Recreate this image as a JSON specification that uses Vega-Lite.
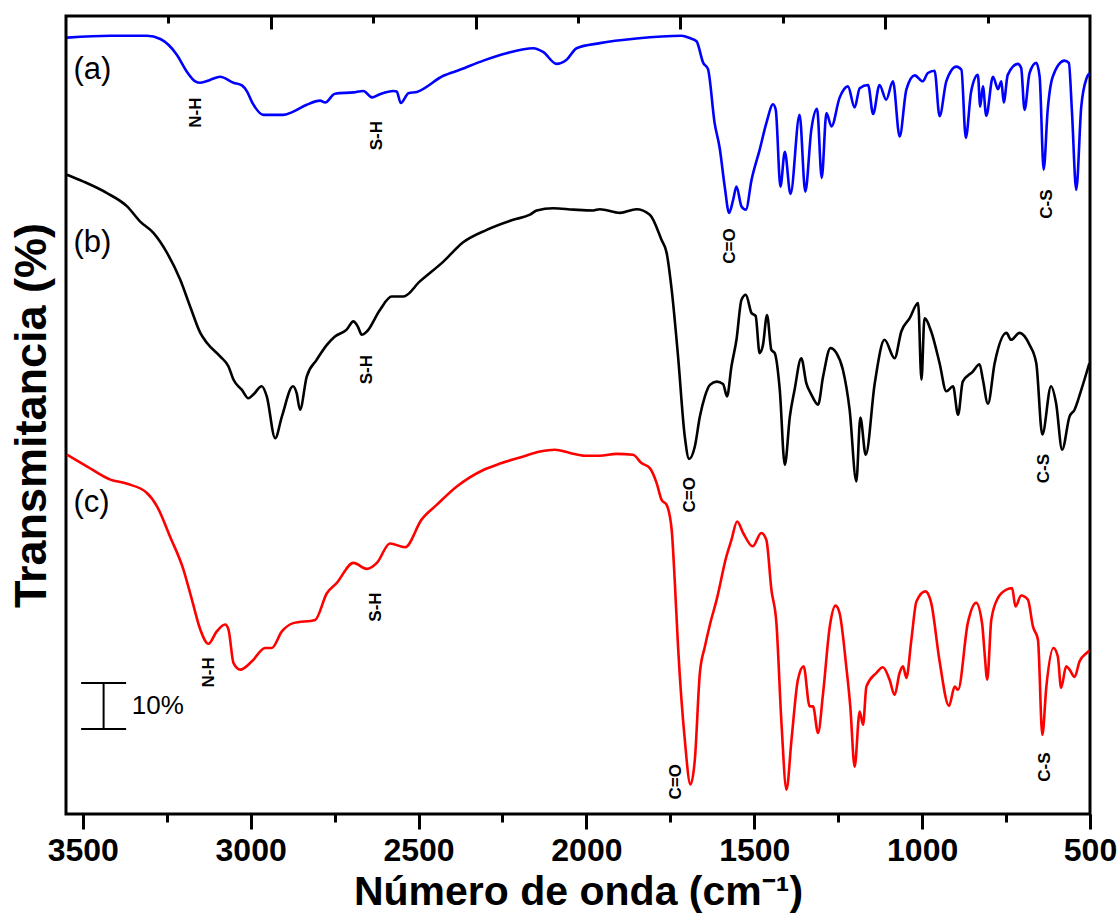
{
  "$schema": "https://vega.github.io/schema/vega-lite/v6.json",
  "autosize": "none",
  "width": 1024,
  "height": 798,
  "padding": {"left": 66, "top": 16, "right": 30, "bottom": 110},
  "background": "white",
  "config": {"view": {"stroke": "black", "strokeWidth": 3}, "font": "Liberation Sans"},
  "datasets": {
    "spectra": [
      {"s":"a","wn":3547,"T":168.8},{"s":"a","wn":3418,"T":169.2},{"s":"a","wn":3309,"T":169.2},{"s":"a","wn":3269,"T":168.5},{"s":"a","wn":3220,"T":165.1},{"s":"a","wn":3190,"T":161.4},{"s":"a","wn":3165,"T":159.3},{"s":"a","wn":3150,"T":159.0},{"s":"a","wn":3121,"T":159.6},{"s":"a","wn":3091,"T":160.3},{"s":"a","wn":3051,"T":159.0},{"s":"a","wn":3026,"T":158.4},{"s":"a","wn":3011,"T":157.1},{"s":"a","wn":2996,"T":154.8},{"s":"a","wn":2962,"T":152.0},{"s":"a","wn":2902,"T":152.0},{"s":"a","wn":2873,"T":152.7},{"s":"a","wn":2833,"T":154.2},{"s":"a","wn":2793,"T":155.1},{"s":"a","wn":2778,"T":154.7},{"s":"a","wn":2749,"T":156.6},{"s":"a","wn":2694,"T":156.9},{"s":"a","wn":2664,"T":157.2},{"s":"a","wn":2639,"T":155.8},{"s":"a","wn":2615,"T":156.5},{"s":"a","wn":2575,"T":157.2},{"s":"a","wn":2565,"T":157.1},{"s":"a","wn":2553,"T":154.6},{"s":"a","wn":2530,"T":156.7},{"s":"a","wn":2505,"T":157.0},{"s":"a","wn":2426,"T":160.5},{"s":"a","wn":2377,"T":161.8},{"s":"a","wn":2307,"T":163.8},{"s":"a","wn":2238,"T":165.4},{"s":"a","wn":2158,"T":166.5},{"s":"a","wn":2129,"T":165.7},{"s":"a","wn":2089,"T":163.1},{"s":"a","wn":2059,"T":164.0},{"s":"a","wn":2029,"T":166.5},{"s":"a","wn":1960,"T":167.6},{"s":"a","wn":1851,"T":168.6},{"s":"a","wn":1717,"T":169.2},{"s":"a","wn":1692,"T":168.7},{"s":"a","wn":1672,"T":168.0},{"s":"a","wn":1652,"T":163.3},{"s":"a","wn":1638,"T":162.0},{"s":"a","wn":1618,"T":150.2},{"s":"a","wn":1603,"T":144.8},{"s":"a","wn":1588,"T":136.4},{"s":"a","wn":1575,"T":130.7},{"s":"a","wn":1563,"T":133.5},{"s":"a","wn":1553,"T":136.4},{"s":"a","wn":1538,"T":132.1},{"s":"a","wn":1525,"T":131.4},{"s":"a","wn":1508,"T":137.9},{"s":"a","wn":1484,"T":144.4},{"s":"a","wn":1464,"T":150.2},{"s":"a","wn":1444,"T":154.3},{"s":"a","wn":1436,"T":153.1},{"s":"a","wn":1422,"T":136.4},{"s":"a","wn":1409,"T":144.0},{"s":"a","wn":1392,"T":134.8},{"s":"a","wn":1365,"T":152.0},{"s":"a","wn":1348,"T":135.3},{"s":"a","wn":1330,"T":148.8},{"s":"a","wn":1313,"T":153.3},{"s":"a","wn":1299,"T":138.3},{"s":"a","wn":1285,"T":152.4},{"s":"a","wn":1270,"T":149.5},{"s":"a","wn":1246,"T":155.7},{"s":"a","wn":1221,"T":158.2},{"s":"a","wn":1201,"T":153.6},{"s":"a","wn":1186,"T":157.8},{"s":"a","wn":1161,"T":158.5},{"s":"a","wn":1146,"T":152.2},{"s":"a","wn":1127,"T":158.5},{"s":"a","wn":1107,"T":155.3},{"s":"a","wn":1087,"T":159.3},{"s":"a","wn":1067,"T":147.3},{"s":"a","wn":1047,"T":157.5},{"s":"a","wn":1022,"T":160.6},{"s":"a","wn":998,"T":159.3},{"s":"a","wn":983,"T":161.1},{"s":"a","wn":963,"T":161.6},{"s":"a","wn":948,"T":151.7},{"s":"a","wn":928,"T":159.3},{"s":"a","wn":898,"T":162.5},{"s":"a","wn":883,"T":161.8},{"s":"a","wn":870,"T":147.0},{"s":"a","wn":854,"T":157.1},{"s":"a","wn":834,"T":160.7},{"s":"a","wn":827,"T":153.8},{"s":"a","wn":819,"T":158.2},{"s":"a","wn":809,"T":151.8},{"s":"a","wn":789,"T":160.3},{"s":"a","wn":774,"T":157.6},{"s":"a","wn":764,"T":159.3},{"s":"a","wn":757,"T":154.7},{"s":"a","wn":745,"T":160.7},{"s":"a","wn":715,"T":163.1},{"s":"a","wn":705,"T":162.2},{"s":"a","wn":695,"T":153.1},{"s":"a","wn":680,"T":161.1},{"s":"a","wn":660,"T":163.3},{"s":"a","wn":650,"T":160.3},{"s":"a","wn":638,"T":140.1},{"s":"a","wn":626,"T":153.1},{"s":"a","wn":611,"T":160.3},{"s":"a","wn":576,"T":163.8},{"s":"a","wn":563,"T":163.3},{"s":"a","wn":554,"T":153.1},{"s":"a","wn":541,"T":135.7},{"s":"a","wn":526,"T":153.8},{"s":"a","wn":510,"T":160.0},{"s":"a","wn":502,"T":161.0},
      {"s":"b","wn":3547,"T":139.0},{"s":"b","wn":3498,"T":137.5},{"s":"b","wn":3428,"T":135.0},{"s":"b","wn":3368,"T":132.1},{"s":"b","wn":3329,"T":128.8},{"s":"b","wn":3289,"T":126.3},{"s":"b","wn":3249,"T":122.0},{"s":"b","wn":3210,"T":116.2},{"s":"b","wn":3180,"T":110.3},{"s":"b","wn":3150,"T":104.6},{"s":"b","wn":3130,"T":102.4},{"s":"b","wn":3091,"T":99.5},{"s":"b","wn":3066,"T":97.3},{"s":"b","wn":3051,"T":94.4},{"s":"b","wn":3026,"T":92.2},{"s":"b","wn":3007,"T":90.4},{"s":"b","wn":2992,"T":91.2},{"s":"b","wn":2967,"T":93.0},{"s":"b","wn":2952,"T":90.8},{"s":"b","wn":2927,"T":81.7},{"s":"b","wn":2907,"T":86.4},{"s":"b","wn":2874,"T":93.0},{"s":"b","wn":2863,"T":91.5},{"s":"b","wn":2853,"T":87.9},{"s":"b","wn":2833,"T":95.1},{"s":"b","wn":2803,"T":98.8},{"s":"b","wn":2773,"T":102.0},{"s":"b","wn":2749,"T":103.8},{"s":"b","wn":2714,"T":105.3},{"s":"b","wn":2694,"T":107.1},{"s":"b","wn":2681,"T":106.0},{"s":"b","wn":2669,"T":104.2},{"s":"b","wn":2654,"T":104.9},{"s":"b","wn":2615,"T":109.6},{"s":"b","wn":2580,"T":112.5},{"s":"b","wn":2545,"T":112.5},{"s":"b","wn":2496,"T":115.8},{"s":"b","wn":2426,"T":120.1},{"s":"b","wn":2367,"T":124.3},{"s":"b","wn":2297,"T":127.0},{"s":"b","wn":2218,"T":129.2},{"s":"b","wn":2168,"T":130.3},{"s":"b","wn":2148,"T":131.2},{"s":"b","wn":2099,"T":131.7},{"s":"b","wn":2039,"T":131.4},{"s":"b","wn":1980,"T":131.2},{"s":"b","wn":1960,"T":131.5},{"s":"b","wn":1900,"T":130.7},{"s":"b","wn":1851,"T":131.5},{"s":"b","wn":1811,"T":130.3},{"s":"b","wn":1776,"T":124.8},{"s":"b","wn":1761,"T":122.0},{"s":"b","wn":1746,"T":114.0},{"s":"b","wn":1727,"T":99.5},{"s":"b","wn":1707,"T":82.1},{"s":"b","wn":1694,"T":77.2},{"s":"b","wn":1677,"T":79.9},{"s":"b","wn":1662,"T":86.4},{"s":"b","wn":1647,"T":90.8},{"s":"b","wn":1632,"T":93.3},{"s":"b","wn":1612,"T":94.0},{"s":"b","wn":1593,"T":93.5},{"s":"b","wn":1581,"T":90.8},{"s":"b","wn":1568,"T":97.3},{"s":"b","wn":1553,"T":103.1},{"s":"b","wn":1538,"T":111.8},{"s":"b","wn":1525,"T":112.9},{"s":"b","wn":1508,"T":108.9},{"s":"b","wn":1496,"T":108.3},{"s":"b","wn":1484,"T":100.2},{"s":"b","wn":1474,"T":102.0},{"s":"b","wn":1462,"T":108.5},{"s":"b","wn":1449,"T":100.9},{"s":"b","wn":1439,"T":100.2},{"s":"b","wn":1424,"T":92.2},{"s":"b","wn":1409,"T":75.9},{"s":"b","wn":1394,"T":86.4},{"s":"b","wn":1380,"T":92.2},{"s":"b","wn":1360,"T":99.1},{"s":"b","wn":1345,"T":93.7},{"s":"b","wn":1330,"T":91.2},{"s":"b","wn":1310,"T":89.0},{"s":"b","wn":1295,"T":95.1},{"s":"b","wn":1273,"T":101.3},{"s":"b","wn":1255,"T":100.2},{"s":"b","wn":1236,"T":96.6},{"s":"b","wn":1216,"T":87.9},{"s":"b","wn":1196,"T":72.3},{"s":"b","wn":1184,"T":86.2},{"s":"b","wn":1168,"T":78.1},{"s":"b","wn":1141,"T":93.7},{"s":"b","wn":1112,"T":103.1},{"s":"b","wn":1082,"T":99.1},{"s":"b","wn":1062,"T":104.9},{"s":"b","wn":1037,"T":107.8},{"s":"b","wn":1012,"T":111.1},{"s":"b","wn":1002,"T":94.4},{"s":"b","wn":993,"T":107.8},{"s":"b","wn":973,"T":104.9},{"s":"b","wn":948,"T":98.0},{"s":"b","wn":928,"T":91.9},{"s":"b","wn":908,"T":93.0},{"s":"b","wn":893,"T":86.8},{"s":"b","wn":879,"T":94.0},{"s":"b","wn":849,"T":96.2},{"s":"b","wn":829,"T":97.8},{"s":"b","wn":819,"T":94.4},{"s":"b","wn":804,"T":89.2},{"s":"b","wn":784,"T":98.0},{"s":"b","wn":749,"T":104.6},{"s":"b","wn":735,"T":103.1},{"s":"b","wn":710,"T":104.6},{"s":"b","wn":680,"T":102.0},{"s":"b","wn":660,"T":98.0},{"s":"b","wn":642,"T":82.5},{"s":"b","wn":616,"T":93.0},{"s":"b","wn":601,"T":89.3},{"s":"b","wn":583,"T":79.2},{"s":"b","wn":561,"T":86.4},{"s":"b","wn":546,"T":87.9},{"s":"b","wn":526,"T":92.2},{"s":"b","wn":502,"T":98.0},
      {"s":"c","wn":3547,"T":78.1},{"s":"c","wn":3488,"T":75.6},{"s":"c","wn":3418,"T":72.7},{"s":"c","wn":3368,"T":71.8},{"s":"c","wn":3309,"T":69.8},{"s":"c","wn":3279,"T":66.9},{"s":"c","wn":3240,"T":60.3},{"s":"c","wn":3200,"T":53.1},{"s":"c","wn":3175,"T":46.6},{"s":"c","wn":3150,"T":40.1},{"s":"c","wn":3126,"T":37.0},{"s":"c","wn":3101,"T":39.7},{"s":"c","wn":3076,"T":41.2},{"s":"c","wn":3066,"T":40.1},{"s":"c","wn":3051,"T":32.8},{"s":"c","wn":3031,"T":31.4},{"s":"c","wn":2996,"T":33.2},{"s":"c","wn":2957,"T":36.1},{"s":"c","wn":2937,"T":36.1},{"s":"c","wn":2907,"T":39.7},{"s":"c","wn":2873,"T":41.5},{"s":"c","wn":2808,"T":42.2},{"s":"c","wn":2773,"T":48.0},{"s":"c","wn":2744,"T":50.2},{"s":"c","wn":2694,"T":54.6},{"s":"c","wn":2654,"T":53.3},{"s":"c","wn":2624,"T":54.6},{"s":"c","wn":2585,"T":58.8},{"s":"c","wn":2540,"T":58.0},{"s":"c","wn":2491,"T":64.0},{"s":"c","wn":2446,"T":67.2},{"s":"c","wn":2386,"T":71.2},{"s":"c","wn":2307,"T":74.8},{"s":"c","wn":2257,"T":76.2},{"s":"c","wn":2198,"T":77.5},{"s":"c","wn":2138,"T":78.8},{"s":"c","wn":2094,"T":79.2},{"s":"c","wn":2049,"T":78.5},{"s":"c","wn":2004,"T":77.9},{"s":"c","wn":1960,"T":77.9},{"s":"c","wn":1910,"T":78.3},{"s":"c","wn":1861,"T":78.1},{"s":"c","wn":1836,"T":76.3},{"s":"c","wn":1811,"T":75.2},{"s":"c","wn":1791,"T":72.0},{"s":"c","wn":1776,"T":68.3},{"s":"c","wn":1761,"T":67.2},{"s":"c","wn":1746,"T":61.8},{"s":"c","wn":1737,"T":50.9},{"s":"c","wn":1727,"T":36.4},{"s":"c","wn":1707,"T":16.2},{"s":"c","wn":1690,"T":6.4},{"s":"c","wn":1677,"T":11.8},{"s":"c","wn":1662,"T":30.7},{"s":"c","wn":1647,"T":36.4},{"s":"c","wn":1632,"T":41.2},{"s":"c","wn":1612,"T":46.6},{"s":"c","wn":1583,"T":56.0},{"s":"c","wn":1568,"T":59.6},{"s":"c","wn":1551,"T":63.6},{"s":"c","wn":1533,"T":61.1},{"s":"c","wn":1505,"T":58.2},{"s":"c","wn":1479,"T":61.1},{"s":"c","wn":1464,"T":59.6},{"s":"c","wn":1449,"T":48.8},{"s":"c","wn":1434,"T":41.5},{"s":"c","wn":1419,"T":19.8},{"s":"c","wn":1404,"T":5.3},{"s":"c","wn":1389,"T":16.2},{"s":"c","wn":1370,"T":29.2},{"s":"c","wn":1353,"T":32.1},{"s":"c","wn":1335,"T":23.4},{"s":"c","wn":1325,"T":23.4},{"s":"c","wn":1310,"T":17.6},{"s":"c","wn":1295,"T":26.3},{"s":"c","wn":1275,"T":40.8},{"s":"c","wn":1258,"T":45.3},{"s":"c","wn":1246,"T":43.7},{"s":"c","wn":1226,"T":32.1},{"s":"c","wn":1214,"T":23.4},{"s":"c","wn":1201,"T":10.3},{"s":"c","wn":1186,"T":22.3},{"s":"c","wn":1176,"T":19.4},{"s":"c","wn":1166,"T":27.7},{"s":"c","wn":1136,"T":30.7},{"s":"c","wn":1117,"T":31.9},{"s":"c","wn":1097,"T":29.2},{"s":"c","wn":1082,"T":25.9},{"s":"c","wn":1067,"T":30.7},{"s":"c","wn":1057,"T":32.1},{"s":"c","wn":1047,"T":29.6},{"s":"c","wn":1032,"T":37.9},{"s":"c","wn":1017,"T":46.2},{"s":"c","wn":990,"T":48.4},{"s":"c","wn":973,"T":45.9},{"s":"c","wn":948,"T":33.2},{"s":"c","wn":920,"T":23.5},{"s":"c","wn":903,"T":27.7},{"s":"c","wn":893,"T":27.0},{"s":"c","wn":864,"T":41.5},{"s":"c","wn":839,"T":45.9},{"s":"c","wn":821,"T":41.2},{"s":"c","wn":814,"T":35.0},{"s":"c","wn":806,"T":29.2},{"s":"c","wn":794,"T":42.2},{"s":"c","wn":774,"T":47.0},{"s":"c","wn":749,"T":48.8},{"s":"c","wn":732,"T":49.1},{"s":"c","wn":722,"T":45.1},{"s":"c","wn":705,"T":47.5},{"s":"c","wn":685,"T":46.6},{"s":"c","wn":670,"T":40.8},{"s":"c","wn":655,"T":37.9},{"s":"c","wn":642,"T":17.2},{"s":"c","wn":630,"T":27.7},{"s":"c","wn":609,"T":36.1},{"s":"c","wn":596,"T":34.3},{"s":"c","wn":586,"T":27.4},{"s":"c","wn":571,"T":32.1},{"s":"c","wn":561,"T":31.4},{"s":"c","wn":546,"T":29.8},{"s":"c","wn":531,"T":33.2},{"s":"c","wn":510,"T":35.0},{"s":"c","wn":502,"T":35.5}
    ],
    "bands": [
      {"lab":"N-H","wn":3162,"T":152.5},{"lab":"S-H","wn":2624,"T":147.5},{"lab":"C=O","wn":1573,"T":123.5},{"lab":"C-S","wn":627,"T":132.6},
      {"lab":"S-H","wn":2652,"T":96.6},{"lab":"C=O","wn":1690,"T":69.4},{"lab":"C-S","wn":636,"T":75.1},
      {"lab":"N-H","wn":3123,"T":30.8},{"lab":"S-H","wn":2627,"T":45.0},{"lab":"C=O","wn":1732,"T":7.0},{"lab":"C-S","wn":633,"T":10.2}
    ],
    "series": [
      {"lab":"(a)","wn":3528,"T":161.8},{"lab":"(b)","wn":3528,"T":124.2},{"lab":"(c)","wn":3528,"T":67.7}
    ],
    "bar": [
      {"xa":3438,"xb":3438,"ya":18.5,"yb":28.5},
      {"xa":3505,"xb":3371,"ya":28.5,"yb":28.5},
      {"xa":3505,"xb":3371,"ya":18.5,"yb":18.5}
    ],
    "barlabel": [
      {"lab":"10%","wn":3354,"T":23.4}
    ]
  },
  "resolve": {"axis": {"x": "independent", "y": "independent"}},
  "layer": [
    {
      "data": {"name": "spectra"},
      "mark": {"type": "line", "strokeWidth": 2.6, "interpolate": "monotone"},
      "encoding": {
        "x": {"field": "wn", "type": "quantitative",
              "scale": {"domain": [3550, 500], "nice": false, "zero": false},
              "axis": {"orient": "bottom", "values": [3500,3000,2500,2000,1500,1000,500], "format": "d", "tickSize": 15, "tickWidth": 3, "tickColor": "black", "domain": false, "grid": false,
                       "labelFontSize": 32, "labelFontWeight": "bold", "labelColor": "black", "labelPadding": 6, "labelFlush": false, "labelOverlap": false,
                       "title": "Número de onda (cm⁻¹)", "titleFontSize": 41, "titleFontWeight": "bold", "titleColor": "black", "titlePadding": 6}},
        "y": {"field": "T", "type": "quantitative",
              "scale": {"domain": [0, 173.5], "nice": false, "zero": false},
              "axis": {"orient": "left", "ticks": false, "labels": false, "domain": false, "grid": false,
                       "title": "Transmitancia (%)", "titleFontSize": 45, "titleFontWeight": "bold", "titleColor": "black", "titlePadding": 12}},
        "color": {"field": "s", "type": "nominal", "scale": {"domain": ["a","b","c"], "range": ["#0000ff","#000000","#ff0000"]}, "legend": null}
      }
    },
    {
      "data": {"name": "bands"},
      "mark": {"type": "text", "angle": 270, "fontWeight": "bold", "fontSize": 17, "color": "black", "align": "center", "baseline": "middle"},
      "encoding": {
        "x": {"field": "wn", "type": "quantitative",
              "axis": {"orient": "bottom", "values": [3250,2750,2250,1750,1250,750], "tickSize": 8, "tickWidth": 3, "tickColor": "black", "labels": false, "domain": false, "grid": false, "title": null}},
        "y": {"field": "T", "type": "quantitative", "axis": null},
        "text": {"field": "lab"}
      }
    },
    {
      "data": {"name": "series"},
      "mark": {"type": "text", "fontSize": 31, "color": "black", "align": "left", "baseline": "middle"},
      "encoding": {
        "x": {"field": "wn", "type": "quantitative",
              "axis": {"orient": "top", "values": [2940,2330,1720,1110], "tickSize": -13, "tickWidth": 3, "tickColor": "black", "labels": false, "domain": false, "grid": false, "title": null}},
        "y": {"field": "T", "type": "quantitative", "axis": null},
        "text": {"field": "lab"}
      }
    },
    {
      "data": {"name": "bar"},
      "mark": {"type": "rule", "strokeWidth": 2, "color": "black"},
      "encoding": {
        "x": {"field": "xa", "type": "quantitative",
              "axis": {"orient": "top", "values": [3245,2635,2025,1415,805], "tickSize": -7, "tickWidth": 3, "tickColor": "black", "labels": false, "domain": false, "grid": false, "title": null}},
        "x2": {"field": "xb"},
        "y": {"field": "ya", "type": "quantitative", "axis": null},
        "y2": {"field": "yb"}
      }
    },
    {
      "data": {"name": "barlabel"},
      "mark": {"type": "text", "fontSize": 26, "color": "black", "align": "left", "baseline": "middle"},
      "encoding": {
        "x": {"field": "wn", "type": "quantitative", "axis": null},
        "y": {"field": "T", "type": "quantitative", "axis": null},
        "text": {"field": "lab"}
      }
    }
  ]
}
